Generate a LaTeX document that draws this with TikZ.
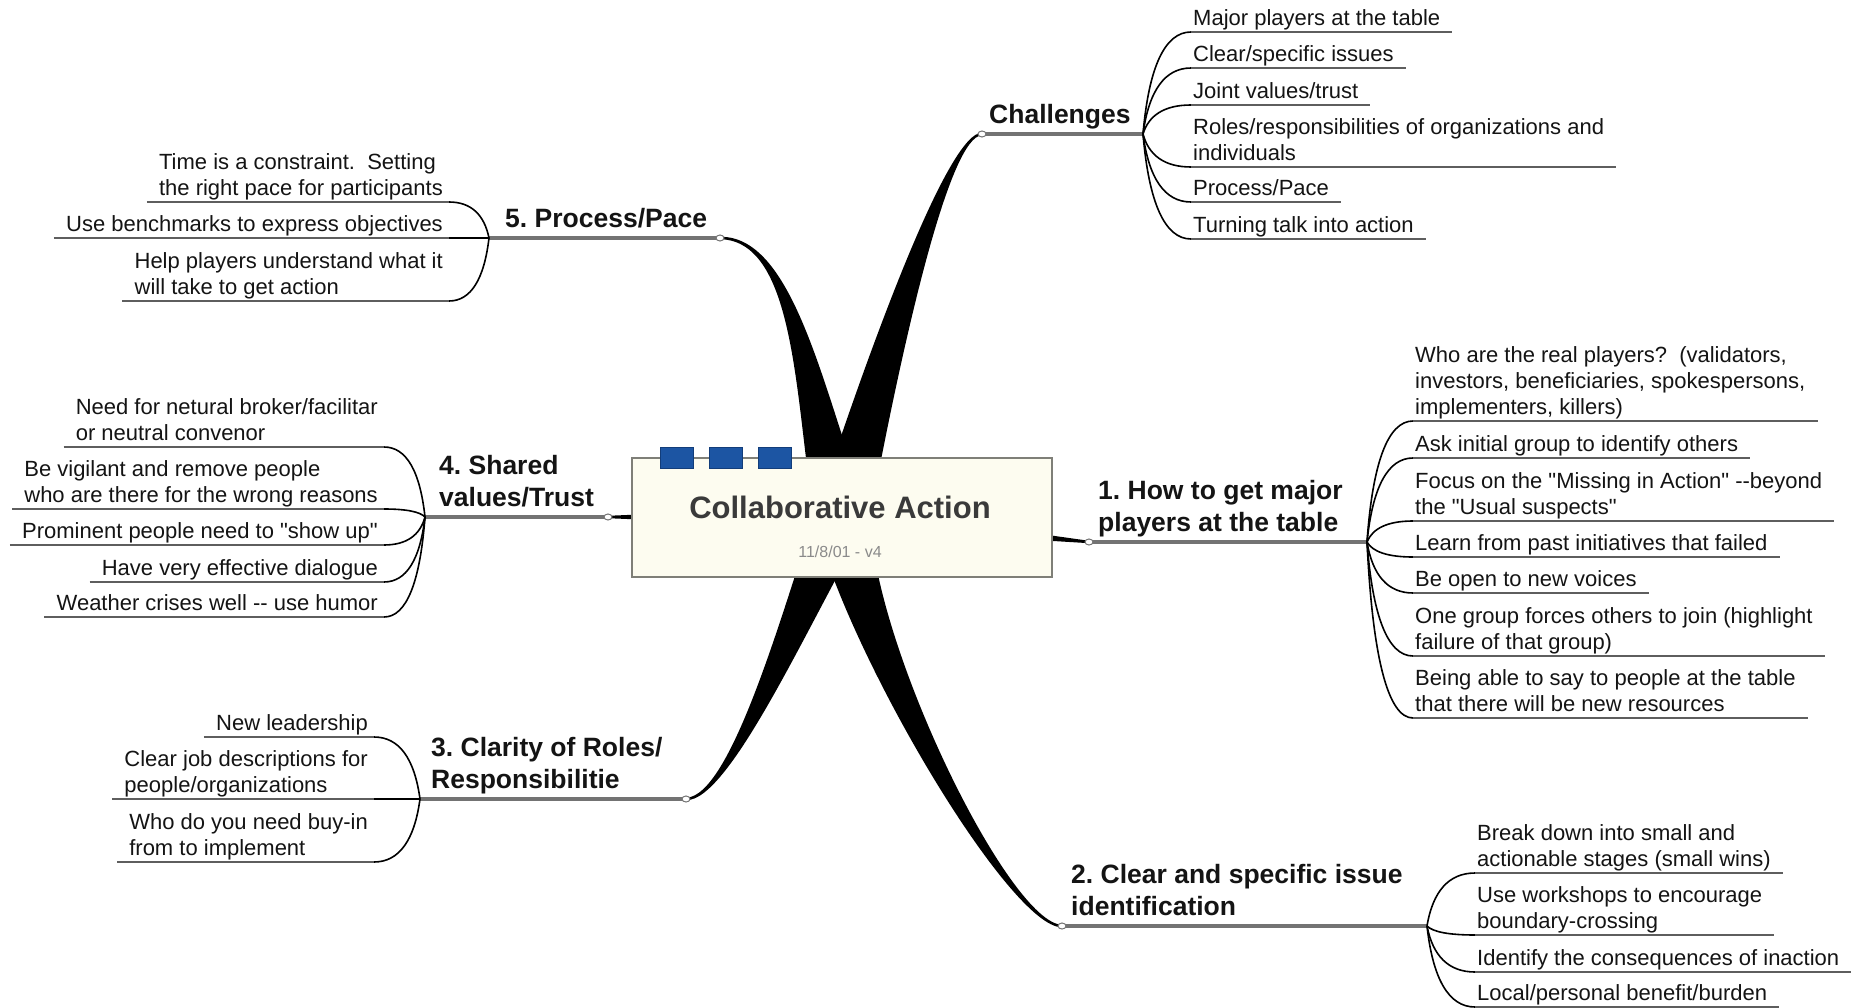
\documentclass[tikz,border=0pt]{standalone}
\usepackage{fontspec}
\setmainfont{Liberation Sans}
\usetikzlibrary{calc,shapes.geometric}

\definecolor{boxfill}{HTML}{FDFCF0}
\definecolor{boxline}{HTML}{7F7F78}
\definecolor{tabblue}{HTML}{1C55A3}
\definecolor{tabedge}{HTML}{123D7A}
\definecolor{titlegray}{HTML}{3A3A3A}
\definecolor{dategray}{HTML}{8A8A8A}
\definecolor{ulgray}{HTML}{5E5E5E}

\newcommand\leaffont{\fontsize{22}{26}\selectfont}
\newcommand\topicfont{\fontsize{26.5}{32}\selectfont\bfseries}
\newcommand\qq{\textquotedbl}

% thin curved connector from a fork point to the start of a leaf's underline
\newcommand\twig[2]{%
  \draw[twig] let \p1=(#1), \p2=(#2) in
    (\p1) .. controls ({\x1+0.12*(\x2-\x1)},{\y1+0.65*(\y2-\y1)})
             and ({\x1+0.45*(\x2-\x1)},{\y2}) .. (\p2);}

% leaf on the right of its fork: fork, name, x, y, text
\newcommand\leafR[5]{%
  \node[leafR] (#2) at (#3,#4) {#5};
  \twig{#1}{[xshift=-2pt]#2.south west}
  \draw[uline] ([xshift=-2pt]#2.south west) -- ([xshift=12pt]#2.south east);}

% leaf on the left of its fork: fork, name, x, y, text
\newcommand\leafL[5]{%
  \node[leafL] (#2) at (#3,#4) {#5};
  \twig{#1}{[xshift=6pt]#2.south east}
  \draw[uline] ([xshift=-12pt]#2.south west) -- ([xshift=6pt]#2.south east);}

% tapered branch: end point, first control (relative to end), second control (relative to centre)
% the width grows from the thin end to the centre
\newcommand\trunkpath[5]{% end, c1x, c1y, c2x, c2y
  \fill[trunk] ($(#1)+(0,-1.2)$) .. controls ($(#1)+(#2,#3-2.5)$) and ($(ctr)+(#4-15*\side,#5)$)
    .. ($(ctr)+(-28*\side,0)$) -- ($(ctr)+(28*\side,0)$) .. controls ($(ctr)+(#4+15*\side,#5)$)
    and ($(#1)+(#2,#3+2.5)$) .. ($(#1)+(0,1.2)$) -- cycle;}

\begin{document}
\frenchspacing
\begin{tikzpicture}[x=1pt,y=-1pt,
  leafR/.style={font=\leaffont, align=left, inner xsep=0pt, inner ysep=1pt,
    text depth=5pt, anchor=south west, text=black!92},
  leafL/.style={leafR, anchor=south east},
  topic/.style={font=\topicfont, align=left, inner xsep=0pt, inner ysep=4.5pt,
    text depth=6pt, anchor=south west, text=black!92},
  uline/.style={draw=ulgray, line width=2.8pt},
  mline/.style={draw=black!55, line width=3.4pt},
  twig/.style={draw=black, line width=1.6pt},
  trunk/.style={fill=black},
  knob/.style={ellipse, draw=black!55, fill=white, line width=1pt, inner sep=0pt,
    minimum width=8pt, minimum height=6pt},
  tab/.style={draw=tabedge, fill=tabblue, line width=0.8pt, inner sep=0pt,
    minimum width=33pt, minimum height=21pt},
]
\useasboundingbox (0,0) rectangle (1852,1008);
\fill[white] (0,0) rectangle (1852,1008);

% centre and branch end points
\coordinate (ctr)  at (842,517);
\coordinate (chE)  at (982,134);
\coordinate (howE) at (1089,542);
\coordinate (clrE) at (1062,926);
\coordinate (proE) at (720,238);
\coordinate (shaE) at (608,517);
\coordinate (claE) at (686,799);
% forks where the leaves split off
\coordinate (chF)  at (1143,134);
\coordinate (howF) at (1367,542);
\coordinate (clrF) at (1427,926);
\coordinate (proF) at (489,238);
\coordinate (shaF) at (425,517);
\coordinate (claF) at (420,799);

% tapered main branches (\side picks which edge of the thin end meets which edge at the centre)
\def\side{-1}
\trunkpath{proE}{76}{0}{-32}{-117}
\trunkpath{clrE}{-52}{0}{18}{133}
\def\side{1}
\trunkpath{chE}{-32}{0}{48}{-187}
\trunkpath{claE}{44}{0}{-47}{103}
\fill[trunk] ($(shaE)+(0,-1.2)$) -- ($(ctr)+(0,-11)$) -- ($(ctr)+(0,11)$) -- ($(shaE)+(0,1.2)$) -- cycle;
\fill[trunk] ($(howE)+(0,-1.2)$) -- ($(ctr)+(0,-11)$) -- ($(ctr)+(0,11)$) -- ($(howE)+(0,1.2)$) -- cycle;

% central topic
\node[draw=boxline, fill=boxfill, line width=1.4pt, minimum width=420pt,
  minimum height=119pt, inner sep=0pt] (core) at (842,517.5) {};
\node[tab] (tab1) at (676.5,457.5) {};
\node[tab] (tab2) at (725.5,457.5) {};
\node[tab] (tab3) at (775,457.5) {};
\node[anchor=base, font=\fontsize{31}{36}\selectfont\bfseries, text=titlegray, inner sep=0pt]
  (title) at (840,518) {Collaborative Action};
\node[anchor=base, font=\fontsize{16}{18}\selectfont, text=dategray, inner sep=0pt]
  (date) at (840,557) {11/8/01 - v4};

% main branch underlines and end knobs
\draw[mline] (chE) -- (chF);
\draw[mline] (howE) -- (howF);
\draw[mline] (clrE) -- (clrF);
\draw[mline] (proF) -- (proE);
\draw[mline] (shaF) -- (shaE);
\draw[mline] (claF) -- (claE);
\node[knob] (chK) at (chE) {};
\node[knob] (howK) at (howE) {};
\node[knob] (clrK) at (clrE) {};
\node[knob] (proK) at (proE) {};
\node[knob] (shaK) at (shaE) {};
\node[knob] (claK) at (claE) {};

% main topics
\node[topic] (ch)  at (989,134)  {Challenges};
\node[topic] (how) at (1098,542) {1. How to get major\\players at the table};
\node[topic] (clr) at (1071,926) {2. Clear and specific issue\\identification};
\node[topic] (cla) at (431,799)  {3. Clarity of Roles/\\Responsibilitie};
\node[topic] (sha) at (439,517)  {4. Shared\\values/Trust};
\node[topic] (pro) at (505,238)  {5. Process/Pace};

% Challenges
\leafR{chF}{c1}{1193}{32}{Major players at the table}
\leafR{chF}{c2}{1193}{68}{Clear/specific issues}
\leafR{chF}{c3}{1193}{105}{Joint values/trust}
\leafR{chF}{c4}{1193}{167}{Roles/responsibilities of organizations and\\individuals}
\leafR{chF}{c5}{1193}{202}{Process/Pace}
\leafR{chF}{c6}{1193}{239}{Turning talk into action}

% 1. How to get major players at the table
\leafR{howF}{h1}{1415}{421}{Who are the real players?~~(validators,\\investors, beneficiaries, spokespersons,\\implementers, killers)}
\leafR{howF}{h2}{1415}{458}{Ask initial group to identify others}
\leafR{howF}{h3}{1415}{521}{Focus on the \qq Missing in Action\qq\ -{}-beyond\\the \qq Usual suspects\qq}
\leafR{howF}{h4}{1415}{557}{Learn from past initiatives that failed}
\leafR{howF}{h5}{1415}{593}{Be open to new voices}
\leafR{howF}{h6}{1415}{656}{One group forces others to join (highlight\\failure of that group)}
\leafR{howF}{h7}{1415}{718}{Being able to say to people at the table\\that there will be new resources}

% 2. Clear and specific issue identification
\leafR{clrF}{k1}{1477}{873}{Break down into small and\\actionable stages (small wins)}
\leafR{clrF}{k2}{1477}{935}{Use workshops to encourage\\boundary-crossing}
\leafR{clrF}{k3}{1477}{972}{Identify the consequences of inaction}
\leafR{clrF}{k4}{1477}{1007}{Local/personal benefit/burden}

% 5. Process/Pace
\leafL{proF}{p1}{443}{202}{Time is a constraint.~~Setting\\the right pace for participants}
\leafL{proF}{p2}{443}{238}{Use benchmarks to express objectives}
\leafL{proF}{p3}{443}{301}{Help players understand what it\\will take to get action}

% 4. Shared values/Trust
\leafL{shaF}{s1}{378}{447}{Need for netural broker/facilitar\\or neutral convenor}
\leafL{shaF}{s2}{378}{509}{Be vigilant and remove people\\who are there for the wrong reasons}
\leafL{shaF}{s3}{378}{545}{Prominent people need to \qq show up\qq}
\leafL{shaF}{s4}{378}{582}{Have very effective dialogue}
\leafL{shaF}{s5}{378}{617}{Weather crises well -{}- use humor}

% 3. Clarity of Roles/Responsibilities
\leafL{claF}{r1}{368}{737}{New leadership}
\leafL{claF}{r2}{368}{799}{Clear job descriptions for\\people/organizations}
\leafL{claF}{r3}{368}{862}{Who do you need buy-in\\from to implement}
\end{tikzpicture}
\end{document}
